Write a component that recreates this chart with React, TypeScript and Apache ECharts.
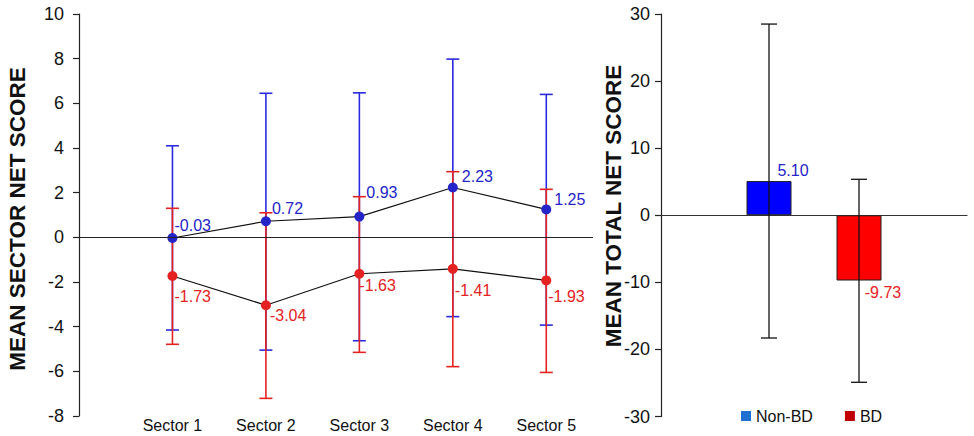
import React, { useEffect, useRef } from "react";
import * as echarts from "echarts";

const sectors = ["Sector 1", "Sector 2", "Sector 3", "Sector 4", "Sector 5"];
const sectorPos = [1, 2, 3, 4, 5];
const nonBdMean = [-0.03, 0.72, 0.93, 2.23, 1.25];
const nonBdLow = [-4.15, -5.05, -4.63, -3.55, -3.93];
const nonBdHigh = [4.1, 6.45, 6.47, 7.98, 6.4];
const bdMean = [-1.73, -3.04, -1.63, -1.41, -1.93];
const bdLow = [-4.79, -7.21, -5.15, -5.79, -6.05];
const bdHigh = [1.3, 1.1, 1.82, 2.94, 2.15];

const groups = ["Non-BD", "BD"];
const totalMean = [5.1, -9.73];
const totalLow = [-18.3, -24.9];
const totalHigh = [28.5, 5.36];

const leftTitle = "MEAN SECTOR NET SCORE";
const rightTitle = "MEAN TOTAL NET SCORE";

const leftTicks = { min: -8, max: 10, interval: 2 };
const rightTicks = { min: -30, max: 30, interval: 10 };

// label placement (style only)
const blueLabelOffset = [[-3, -13], [1, -13], [2, -24], [4, -11], [3, -10]];
const redLabelOffset = [[-3, 21], [-1, 10], [-5, 12], [-3, 22], [-3, 16]];

const FONT = "'Liberation Sans', Arial, sans-serif";
const BLUE = "#2424c8";
const BLUE_BAR = "#2a2ae0";
const RED = "#e52222";

function errRender(color: string, capHalf: number, lw: number, barOffset?: number[]) {
  return (params: any, api: any) => {
    const x = api.value(0);
    const lo = api.value(1);
    const hi = api.value(2);
    const pLo = api.coord([x, lo]);
    const pHi = api.coord([x, hi]);
    const dx = barOffset ? barOffset[params.dataIndex] : 0;
    const cx = pLo[0] + dx;
    const style = { stroke: color, lineWidth: lw };
    return {
      type: "group",
      children: [
        { type: "line", shape: { x1: cx, y1: pLo[1], x2: cx, y2: pHi[1] }, style },
        { type: "line", shape: { x1: cx - capHalf, y1: pHi[1], x2: cx + capHalf, y2: pHi[1] }, style },
        { type: "line", shape: { x1: cx - capHalf, y1: pLo[1], x2: cx + capHalf, y2: pLo[1] }, style },
      ],
    };
  };
}

export default function App() {
  const ref = useRef<HTMLDivElement>(null);
  useEffect(() => {
    if (!ref.current) return;
    const chart = echarts.init(ref.current, null, { renderer: "svg" });
    const labelStyle = { fontFamily: FONT, fontSize: 16 };
    const titleStyle = {
      fontFamily: FONT,
      fontSize: 22.5,
      fontWeight: "bold",
      fill: "#111",
      textAlign: "center",
      textVerticalAlign: "middle",
    };
    const option: any = {
      animation: false,
      textStyle: { fontFamily: FONT },
      graphic: [
        { type: "text", x: 17, y: 219, rotation: Math.PI / 2, style: { ...titleStyle, text: leftTitle } },
        { type: "text", x: 613, y: 206, rotation: Math.PI / 2, style: { ...titleStyle, text: rightTitle } },
      ],
      grid: [
        { left: 79, top: 14, width: 514, height: 402 },
        { left: 661, top: 14, width: 306, height: 402.5 },
      ],
      legend: {
        left: 736,
        top: 403,
        itemWidth: 10,
        itemHeight: 10,
        itemGap: 32,
        icon: "rect",
        textStyle: { fontFamily: FONT, fontSize: 16, color: "#111" },
        data: [
          { name: groups[0], itemStyle: { color: "#1f6fd0", borderWidth: 0 } },
          { name: groups[1], itemStyle: { color: "#c00000", borderWidth: 0 } },
        ],
      },
      xAxis: [
        {
          type: "value",
          gridIndex: 0,
          min: 0,
          max: 5.5,
          interval: 1,
          axisLine: { show: false },
          axisTick: { show: false },
          splitLine: { show: false },
          axisLabel: {
            margin: 1,
            fontSize: 16,
            color: "#111",
            fontFamily: FONT,
            showMaxLabel: false,
            formatter: (v: number) => {
              const i = sectorPos.indexOf(v);
              return i >= 0 ? sectors[i] : "";
            },
          },
        },
        {
          type: "category",
          gridIndex: 1,
          data: [""],
          axisLine: { show: true, onZero: true, lineStyle: { color: "#333", width: 1.2 } },
          axisTick: { show: false },
          axisLabel: { show: false },
        },
      ],
      yAxis: [
        {
          type: "value",
          gridIndex: 0,
          ...leftTicks,
          axisLine: { show: true, lineStyle: { color: "#222", width: 1.2 } },
          axisTick: { show: true, length: 6, lineStyle: { color: "#222", width: 1.2 } },
          splitLine: { show: false },
          axisLabel: { margin: 15, fontSize: 18, color: "#111", fontFamily: FONT },
        },
        {
          type: "value",
          gridIndex: 1,
          ...rightTicks,
          axisLine: { show: true, lineStyle: { color: "#222", width: 1.2 } },
          axisTick: { show: true, length: 6, lineStyle: { color: "#222", width: 1.2 } },
          splitLine: { show: false },
          axisLabel: { margin: 11, fontSize: 18, color: "#111", fontFamily: FONT },
        },
      ],
      series: [
        {
          name: "nonbd-err",
          type: "custom",
          xAxisIndex: 0,
          yAxisIndex: 0,
          z: 2,
          renderItem: errRender(BLUE_BAR, 6.5, 1.6),
          data: sectorPos.map((x, i) => [x, nonBdLow[i], nonBdHigh[i]]),
          markLine: {
            silent: true,
            symbol: ["none", "none"],
            label: { show: false },
            lineStyle: { color: "#222", width: 1.2, type: "solid" },
            data: [{ yAxis: 0 }],
          },
        },
        {
          name: "bd-err",
          type: "custom",
          xAxisIndex: 0,
          yAxisIndex: 0,
          z: 2,
          renderItem: errRender(RED, 6.5, 1.6),
          data: sectorPos.map((x, i) => [x, bdLow[i], bdHigh[i]]),
        },
        {
          name: "nonbd-line",
          type: "line",
          xAxisIndex: 0,
          yAxisIndex: 0,
          z: 3,
          symbol: "circle",
          symbolSize: 10,
          itemStyle: { color: BLUE },
          lineStyle: { color: "#111", width: 1.2 },
          data: sectorPos.map((x, i) => ({
            value: [x, nonBdMean[i]],
            label: { offset: blueLabelOffset[i] },
          })),
          label: {
            show: true,
            position: "right",
            distance: 0,
            color: BLUE,
            ...labelStyle,
            formatter: (p: any) => p.value[1].toFixed(2),
          },
        },
        {
          name: "bd-line",
          type: "line",
          xAxisIndex: 0,
          yAxisIndex: 0,
          z: 3,
          symbol: "circle",
          symbolSize: 10,
          itemStyle: { color: RED },
          lineStyle: { color: "#111", width: 1.2 },
          data: sectorPos.map((x, i) => ({
            value: [x, bdMean[i]],
            label: { offset: redLabelOffset[i] },
          })),
          label: {
            show: true,
            position: "right",
            distance: 0,
            color: RED,
            ...labelStyle,
            formatter: (p: any) => p.value[1].toFixed(2),
          },
        },
        {
          name: groups[0],
          type: "bar",
          xAxisIndex: 1,
          yAxisIndex: 1,
          barWidth: 45,
          barGap: "100%",
          itemStyle: { color: "#0000ff", borderColor: "#222", borderWidth: 1 },
          label: {
            show: true,
            position: "top",
            distance: 3,
            offset: [24, 0],
            color: BLUE,
            ...labelStyle,
            formatter: (p: any) => Number(p.value).toFixed(2),
          },
          data: [totalMean[0]],
        },
        {
          name: groups[1],
          type: "bar",
          xAxisIndex: 1,
          yAxisIndex: 1,
          barWidth: 45,
          barGap: "100%",
          itemStyle: { color: "#ff0000", borderColor: "#222", borderWidth: 1 },
          label: {
            show: true,
            position: "bottom",
            distance: 4,
            offset: [24, 0],
            color: RED,
            ...labelStyle,
            formatter: (p: any) => Number(p.value).toFixed(2),
          },
          data: [totalMean[1]],
        },
        {
          name: "total-err",
          type: "custom",
          xAxisIndex: 1,
          yAxisIndex: 1,
          z: 3,
          renderItem: (params: any, api: any) => {
            const r = errRender("#111", 8, 1.3, [-45, 45]);
            return r(params, api);
          },
          data: groups.map((g, i) => [0, totalLow[i], totalHigh[i]]),
        },
      ],
    };
    chart.setOption(option);
    return () => chart.dispose();
  }, []);
  return (
    <div
      ref={ref}
      style={{ position: "absolute", left: 0, top: 0, width: 974, height: 436, background: "#fff" }}
    />
  );
}
